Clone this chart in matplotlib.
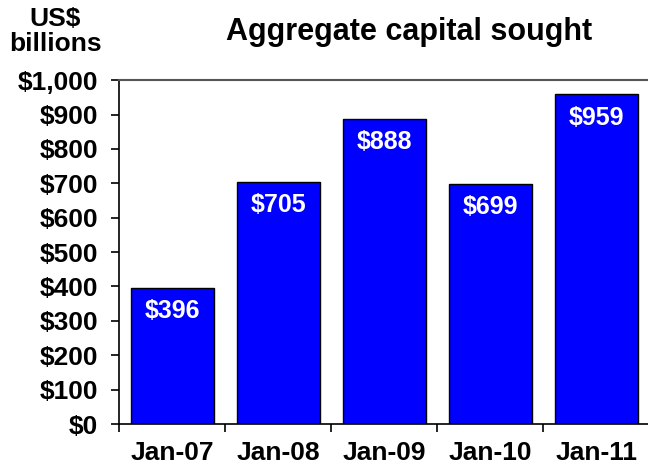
import numpy as np
import matplotlib.pyplot as plt
from matplotlib.ticker import FixedLocator

plt.rcParams['font.family'] = ['Liberation Sans', 'DejaVu Sans']
plt.rcParams['font.weight'] = 'bold'

# ---- data ----
periods = ['Jan-07', 'Jan-08', 'Jan-09', 'Jan-10', 'Jan-11']
capital = [396, 705, 888, 699, 959]
yticks = [0, 100, 200, 300, 400, 500, 600, 700, 800, 900, 1000]

fig = plt.figure(figsize=(6.48, 4.66), dpi=100)
ax = fig.add_axes([0.184, 0.09, 0.818, 0.738])

x = np.arange(len(periods))
bars = ax.bar(x, capital, width=0.78, color='#0000FF', edgecolor='black', linewidth=1.0)

for xi, v in zip(x, capital):
    ax.text(xi, v - 68, f'${v}', ha='center', va='center', color='white',
            fontsize=18, fontweight='bold')

ax.set_xlim(-0.5, len(periods) - 0.5)
ax.set_ylim(0, 1000)
ax.set_yticks(yticks)
ax.set_yticklabels([f'${v:,}' for v in yticks], fontsize=19, fontweight='bold')
ax.set_xticks(x)
ax.set_xticklabels(periods, fontsize=19, fontweight='bold')
ax.tick_params(axis='x', which='major', length=0, pad=12)
ax.xaxis.set_minor_locator(FixedLocator(np.arange(-0.5, len(periods), 1.0)))
ax.tick_params(axis='x', which='minor', length=6, width=1.2, direction='out')
ax.tick_params(axis='y', length=6, width=1.2, direction='out', pad=9)

for s in ['left', 'bottom']:
    ax.spines[s].set_linewidth(1.2)
ax.spines['top'].set_color('#555555')
ax.spines['top'].set_linewidth(1.5)
ax.spines['right'].set_visible(False)

fig.text(0.632, 0.932, 'Aggregate capital sought', ha='center', va='center',
         fontsize=22, fontweight='bold')
fig.text(0.085, 0.932, 'US$\nbillions', ha='center', va='center',
         fontsize=19, fontweight='bold', linespacing=1.05)

fig.savefig('out.png', dpi=100)
